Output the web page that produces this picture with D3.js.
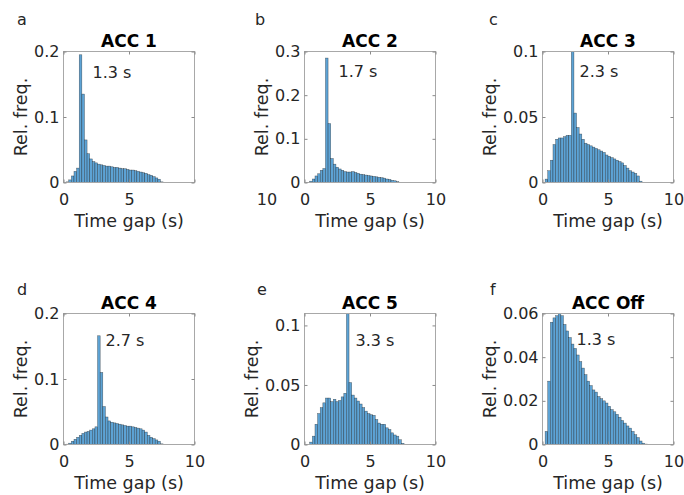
<!DOCTYPE html>
<html>
<head>
<meta charset="utf-8">
<script src="https://cdn.jsdelivr.net/npm/d3@7"></script>
<style>
  body { margin: 0; background: #fff; }
  svg { display: block; font-family: "DejaVu Sans", Verdana, sans-serif; }
</style>
</head>
<body>
<svg id="chart" width="684" height="495"></svg>
<script>
// histogram bin edges (s), 0.2 s wide
const binEdges = [0, 0.2, 0.4, 0.6, 0.8, 1.0, 1.2, 1.4, 1.6, 1.8,
                  2.0, 2.2, 2.4, 2.6, 2.8, 3.0, 3.2, 3.4, 3.6, 3.8,
                  4.0, 4.2, 4.4, 4.6, 4.8, 5.0, 5.2, 5.4, 5.6, 5.8,
                  6.0, 6.2, 6.4, 6.6, 6.8, 7.0, 7.2, 7.4, 7.6, 7.8, 8.0];

// relative frequency per bin
const acc1 = [0, 0.001, 0.004, 0.010, 0.017, 0.022, 0.195, 0.135, 0.065, 0.044,
              0.036, 0.032, 0.030, 0.028, 0.027, 0.026, 0.025, 0.025, 0.024, 0.023,
              0.023, 0.022, 0.021, 0.021, 0.020, 0.019, 0.019, 0.018, 0.017, 0.016,
              0.015, 0.014, 0.012, 0.011, 0.009, 0.007, 0.005, 0.001, 0, 0];
const acc2 = [0, 0.0005, 0.003, 0.008, 0.015, 0.020, 0.028, 0.032, 0.285, 0.135,
              0.055, 0.042, 0.035, 0.031, 0.028, 0.025, 0.024, 0.024, 0.025, 0.023,
              0.021, 0.019, 0.018, 0.017, 0.016, 0.015, 0.014, 0.013, 0.012, 0.011,
              0.010, 0.008, 0.007, 0.005, 0.004, 0.002, 0.0005, 0, 0, 0];
const acc3 = [0, 0.0026, 0.009, 0.017, 0.029, 0.033, 0.034, 0.034, 0.035, 0.036,
              0.036, 0.105, 0.053, 0.042, 0.037, 0.033, 0.030, 0.029, 0.028, 0.027,
              0.026, 0.025, 0.024, 0.023, 0.021, 0.020, 0.019, 0.018, 0.017, 0.016,
              0.015, 0.013, 0.011, 0.009, 0.008, 0.007, 0.005, 0.001, 0, 0];
const acc4 = [0, 0.0005, 0.002, 0.005, 0.008, 0.011, 0.014, 0.017, 0.019, 0.020,
              0.022, 0.024, 0.027, 0.166, 0.110, 0.058, 0.042, 0.036, 0.034, 0.033,
              0.032, 0.031, 0.030, 0.029, 0.028, 0.028, 0.027, 0.026, 0.025, 0.024,
              0.022, 0.019, 0.014, 0.011, 0.009, 0.007, 0.005, 0.001, 0, 0];
const acc5 = [0, 0, 0.002, 0.007, 0.017, 0.026, 0.031, 0.035, 0.039, 0.039,
              0.036, 0.038, 0.036, 0.037, 0.040, 0.043, 0.115, 0.052, 0.0415, 0.039,
              0.0365, 0.034, 0.031, 0.028, 0.026, 0.025, 0.0245, 0.021, 0.018, 0.017,
              0.017, 0.014, 0.0126, 0.0098, 0.008, 0.007, 0.004, 0.001, 0, 0];
const accOff = [0, 0.006, 0.029, 0.056, 0.058, 0.059, 0.060, 0.059, 0.055, 0.052,
                0.049, 0.046, 0.044, 0.041, 0.038, 0.035, 0.032, 0.029, 0.027, 0.025,
                0.024, 0.022, 0.021, 0.020, 0.019, 0.0175, 0.016, 0.015, 0.0138, 0.0125,
                0.011, 0.0098, 0.0085, 0.0075, 0.006, 0.0045, 0.0032, 0.0016, 0.0006, 0.0002];

const series = [acc1, acc2, acc3, acc4, acc5, accOff];
const titles = ["ACC 1", "ACC 2", "ACC 3", "ACC 4", "ACC 5", "ACC Off"];
const letters = ["a", "b", "c", "d", "e", "f"];
const peakLabels = ["1.3 s", "1.7 s", "2.3 s", "2.7 s", "3.3 s", "1.3 s"];
const yMaxes = [0.2, 0.3, 0.1, 0.2, 0.11, 0.06];
const yTicks = [[0, 0.1, 0.2], [0, 0.1, 0.2, 0.3], [0, 0.05, 0.1],
                [0, 0.1, 0.2], [0, 0.05, 0.1], [0, 0.02, 0.04, 0.06]];
const xTicks = [0, 5, 10];

// layout
const colLeft = [63.5, 304.5, 542.5], rowTop = [51.5, 313.5];
const pw = 131, ph = 131;
const letterPos = [[17, 25], [255, 25], [489, 25], [17, 295], [257, 295], [490, 295]];
const peakPos = [[29, 21], [34, 20], [37, 20], [42, 27], [51, 27], [34, 26]];

const svg = d3.select("#chart");
svg.append("rect").attr("width", 684).attr("height", 495).attr("fill", "#fff");

const txt = "#262626";

series.forEach((vals, i) => {
  const col = i % 3, row = Math.floor(i / 3);
  const g = svg.append("g")
      .attr("transform", `translate(${colLeft[col]},${rowTop[row]})`);

  const x = d3.scaleLinear().domain([0, 10]).range([0, pw]);
  const y = d3.scaleLinear().domain([0, yMaxes[i]]).range([ph, 0]);

  const bins = vals.map((v, k) => ({x0: binEdges[k], x1: binEdges[k + 1], v: v}))
      .filter(b => b.v > 0);

  g.append("clipPath").attr("id", "clip" + i)
    .append("rect").attr("width", pw).attr("height", ph);

  //bars
  g.append("g").attr("clip-path", `url(#clip${i})`)
    .selectAll("rect")
    .data(bins)
    .join("rect")
      .attr("x", b => x(b.x0))
      .attr("width", b => x(b.x1) - x(b.x0))
      .attr("y", b => y(b.v))
      .attr("height", b => ph - y(b.v))
      .attr("fill", "#5da3d5")
      .attr("stroke", "#000")
      .attr("stroke-opacity", 0.55)
      .attr("stroke-width", 0.5);

  //box
  g.append("rect")
    .attr("width", pw).attr("height", ph)
    .attr("fill", "none").attr("stroke", "#a8a8a8").attr("stroke-width", 1);

  const styleAxis = sel => {
    sel.attr("font-size", null).attr("font-family", null);
    sel.select(".domain").remove();
    sel.selectAll(".tick line").attr("stroke", "#8a8a8a");
    sel.selectAll(".tick text").attr("fill", txt).style("font-size", "16px");
  };

  //x axis
  const xg = g.append("g")
      .attr("transform", `translate(0,${ph})`)
      .call(d3.axisBottom(x).tickValues(xTicks).tickSizeInner(-3).tickSizeOuter(0)
              .tickPadding(11).tickFormat(d => String(d)))
      .call(styleAxis);
  g.append("g")
      .call(d3.axisTop(x).tickValues(xTicks).tickSizeInner(-3).tickSizeOuter(0).tickFormat(""))
      .call(styleAxis);

  // panel a's "10" label lands out under panel b in the original
  if (i === 0) {
    xg.selectAll(".tick text").filter(d => d === 10).attr("transform", "translate(72,0)");
  }

  //y axis
  const yg = g.append("g")
      .call(d3.axisLeft(y).tickValues(yTicks[i]).tickSizeInner(-3).tickSizeOuter(0)
              .tickPadding(4).tickFormat(d => String(d)))
      .call(styleAxis);
  g.append("g")
      .attr("transform", `translate(${pw},0)`)
      .call(d3.axisRight(y).tickValues(yTicks[i]).tickSizeInner(-3).tickSizeOuter(0).tickFormat(""))
      .call(styleAxis);

  let minLeft = 0;
  yg.selectAll(".tick text").each(function() {
    minLeft = Math.min(minLeft, this.getBBox().x);
  });

  //labels
  g.append("text")
    .attr("transform", `translate(${minLeft - 13},${ph / 2}) rotate(-90)`)
    .attr("text-anchor", "middle")
    .attr("dy", "0.35em")
    .attr("fill", txt)
    .style("font-size", "17.5px")
    .text("Rel. freq.");

  g.append("text")
    .attr("x", pw / 2).attr("y", ph + 44)
    .attr("text-anchor", "middle")
    .attr("fill", txt)
    .style("font-size", "17.5px")
    .text("Time gap (s)");

  g.append("text")
    .attr("x", pw / 2).attr("y", -4.5)
    .attr("text-anchor", "middle")
    .attr("fill", "#000")
    .style("font-size", "17px")
    .style("font-weight", "bold")
    .text(titles[i]);

  g.append("text")
    .attr("x", peakPos[i][0]).attr("y", peakPos[i][1])
    .attr("dy", "0.35em")
    .attr("fill", txt)
    .style("font-size", "16px")
    .text(peakLabels[i]);

  svg.append("text")
    .attr("x", letterPos[i][0]).attr("y", letterPos[i][1])
    .attr("fill", txt)
    .style("font-size", "16px")
    .text(letters[i]);
});
</script>
</body>
</html>
